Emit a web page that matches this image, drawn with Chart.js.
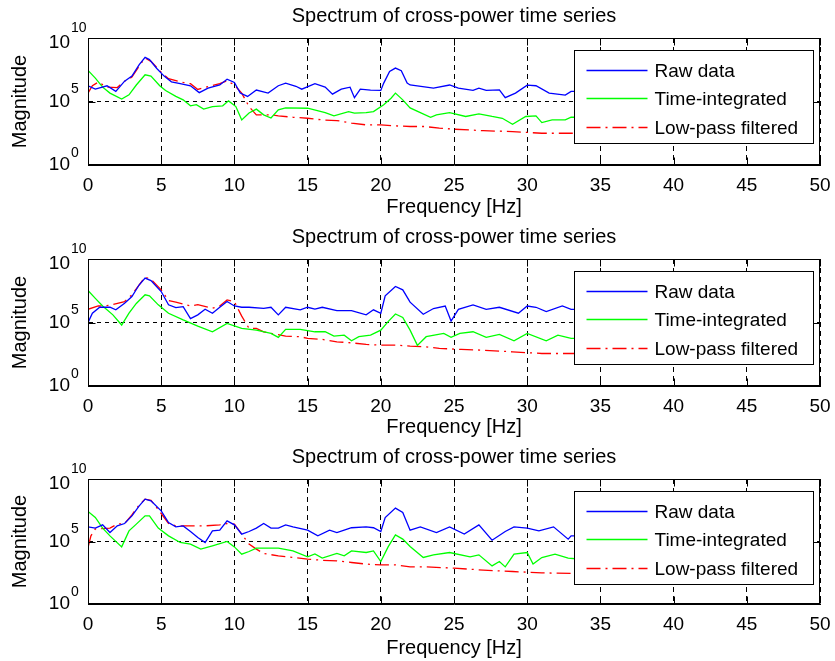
<!DOCTYPE html>
<html>
<head>
<meta charset="utf-8">
<script src="https://cdn.jsdelivr.net/npm/chart.js@4.4.1/dist/chart.umd.min.js"></script>
<style>
  html, body { margin: 0; padding: 0; background: #fff; }
  canvas { display: block; }
</style>
</head>
<body>
<canvas id="spec1" width="835" height="220"></canvas>
<canvas id="spec2" width="835" height="220"></canvas>
<canvas id="spec3" width="835" height="221"></canvas>
<script>
// ---- data: [frequency Hz, log10 magnitude] ----
const raw1 = [[0,6.24],[0.5,5.97],[1.3,6.24],[1.9,5.8],[2.5,6.6],[3,7.0],[3.5,7.9],[3.9,8.47],[4.2,8.3],[4.7,7.6],[5.2,7.0],[5.7,6.55],[6.3,6.4],[7,6.24],[7.6,5.7],[8.2,6.05],[9,6.3],[9.5,6.76],[10,6.5],[10.4,5.66],[10.9,5.4],[11.5,5.9],[12.3,5.66],[13,6.24],[13.5,6.45],[14.2,6.2],[14.6,5.97],[15.5,6.4],[16.2,6.13],[16.7,5.58],[17.3,5.97],[17.9,6.13],[18.2,5.3],[18.6,5.97],[19.3,5.9],[20,5.87],[20.2,6.45],[20.6,7.37],[21,7.63],[21.4,7.42],[21.8,6.45],[22,6.3],[23.6,6.05],[24.7,6.3],[25.3,6.05],[26.3,5.87],[26.7,6.05],[27.2,5.87],[28.1,5.92],[28.5,5.3],[29.2,5.66],[30,6.29],[30.6,6.24],[31.5,5.66],[32.6,5.5],[33,5.8],[33.5,5.8]];
const integ1 = [[0,7.45],[0.5,6.84],[1,6.13],[1.5,5.66],[2.3,5.2],[2.8,5.53],[3.3,6.3],[3.9,7.1],[4.3,7.0],[4.9,6.24],[5.3,5.87],[6,5.4],[6.5,5.13],[7,4.66],[7.4,4.75],[7.9,4.4],[8.5,4.6],[9.2,4.66],[9.6,5.05],[10.1,4.6],[10.5,3.55],[11,4.1],[11.5,4.4],[12,3.95],[12.5,3.7],[13,4.34],[13.5,4.5],[15,4.47],[16.2,4.13],[16.8,3.87],[17.8,4.2],[18.2,4.08],[19,4.13],[19.5,4.2],[20.2,4.74],[20.7,5.26],[21,5.66],[21.5,5.13],[22,4.5],[22.7,4.13],[23.4,3.76],[23.8,3.95],[24.7,4.13],[25.8,3.82],[26.7,4.03],[27.6,3.82],[28.3,3.68],[29,3.2],[29.9,3.82],[30.6,3.87],[31,3.34],[31.7,3.55],[32.6,3.55],[33,3.76],[33.5,3.76]];
const lowpass1 = [[0,5.66],[0.3,6.24],[0.7,6.53],[1.3,6.13],[2,6.1],[2.5,6.6],[3,6.92],[3.5,7.8],[3.9,8.42],[4.3,8.16],[5,7.3],[5.5,6.8],[6.5,6.5],[7,6.4],[7.5,5.95],[8.3,6.2],[9,6.4],[9.5,6.63],[10,6.3],[10.5,5.66],[11,4.6],[11.5,3.95],[12.5,3.95],[13,3.87],[14,3.76],[15,3.68],[16,3.55],[17,3.5],[18,3.3],[19,3.16],[20,3.16],[21,3.08],[22,3.03],[23,3.03],[24,2.9],[25,2.82],[27,2.7],[29,2.63],[31,2.5],[33.5,2.5]];

const raw2 = [[0,4.99],[0.3,5.73],[0.8,6.2],[1.5,6.2],[1.9,6.0],[2.5,6.52],[3,7.04],[3.5,7.97],[3.9,8.5],[4.3,8.3],[5,7.44],[5.5,6.39],[6,6.17],[6.5,6.25],[7,5.3],[7.5,5.6],[8,6.04],[8.5,5.73],[9,6.2],[9.5,6.65],[10,6.3],[10.5,6.2],[11,6.2],[12,6.12],[12.5,6.2],[13,5.6],[13.5,6.2],[14.5,6.0],[15,6.2],[15.5,6.05],[16,6.2],[17,5.94],[18,5.94],[19,5.6],[19.5,6.0],[20,5.73],[20.3,7.1],[21,7.84],[21.5,7.57],[22,6.6],[22.9,5.65],[23.6,6.1],[24.4,6.3],[24.8,5.12],[25.3,6.04],[26.3,6.39],[27.2,6.04],[28.1,6.2],[29.4,5.73],[30,6.3],[30.6,6.2],[31.3,5.86],[32.4,6.3],[33,6.04],[33.5,6.04]];
const integ2 = [[0,7.52],[0.5,6.9],[1,6.3],[1.7,5.6],[2.3,4.8],[2.8,5.73],[3.3,6.5],[3.9,7.18],[4.2,7.1],[4.8,6.39],[5.5,5.73],[6.5,5.2],[7.5,4.72],[8.5,4.27],[9.5,4.93],[10.5,4.54],[11.5,4.4],[12.5,4.14],[13,3.83],[13.5,4.46],[14.5,4.46],[15.5,4.27],[16.2,4.27],[16.8,3.93],[17.5,4.0],[18,3.56],[18.5,3.88],[19.3,4.0],[20,4.4],[20.5,5.07],[21,5.67],[21.5,5.4],[22,4.4],[22.5,3.2],[23.1,3.88],[24.3,4.14],[24.8,3.83],[25.4,4.14],[26.3,4.27],[27.2,3.83],[28.1,4.06],[29.1,3.56],[30,4.14],[31.3,3.56],[32.1,4.0],[33,3.75],[33.5,3.75]];
const lowpass2 = [[0,6.04],[0.7,6.3],[1.5,6.35],[2.5,6.65],[3,7.18],[3.5,7.97],[3.9,8.58],[4.3,8.4],[5,7.57],[5.5,6.73],[6,6.6],[7,6.3],[7.5,6.4],[8.5,6.12],[9,6.3],[9.5,6.78],[10,6.65],[10.5,5.5],[11,4.54],[11.5,4.54],[12,4.27],[12.5,4.14],[13.5,3.93],[14.5,3.88],[15,3.75],[16,3.67],[17,3.48],[18,3.4],[19,3.27],[20,3.22],[21,3.22],[22,3.14],[23,3.09],[24,2.96],[25.5,2.88],[27,2.82],[29,2.69],[31,2.56],[33.5,2.56]];

const raw3 = [[0,6.17],[0.5,6.07],[1,6.33],[1.5,5.72],[2,6.25],[2.5,6.44],[3,7.05],[3.5,7.85],[3.9,8.39],[4.3,8.25],[5,7.45],[5.5,6.52],[6,6.17],[6.5,6.25],[7,5.8],[7.5,5.32],[8,4.92],[8.5,5.85],[9,5.9],[9.5,6.65],[10,6.33],[10.5,5.59],[11,5.8],[11.5,6.07],[12,6.44],[12.5,6.07],[13,6.07],[13.5,6.33],[14,6.17],[15,5.91],[15.7,5.45],[16.5,5.91],[17,5.72],[17.5,5.91],[18,6.1],[19,6.17],[19.5,6.1],[20,5.8],[20.3,6.92],[21,7.67],[21.5,7.32],[22,5.91],[22.7,6.17],[23.8,5.72],[24.7,6.17],[25.7,5.59],[26.7,6.33],[27.6,5.1],[28.5,5.8],[29.1,6.17],[30,6.07],[30.8,5.85],[31.8,6.17],[32.8,5.19],[33,5.45],[33.5,5.45]];
const integ3 = [[0,7.4],[0.5,6.92],[1,6.07],[1.5,5.45],[2.3,4.57],[2.8,5.85],[3.3,6.39],[3.9,7.05],[4.2,7.05],[4.8,6.07],[5.5,5.45],[6.3,4.92],[7,4.79],[7.7,4.39],[8.5,4.65],[9.5,5.0],[10,4.57],[10.5,3.99],[11,4.2],[11.5,4.47],[13,4.47],[14,4.25],[15,3.77],[15.5,4.0],[16,3.67],[17,4.04],[17.5,3.85],[18,4.25],[19,4.12],[19.5,4.25],[20,3.4],[20.5,4.57],[21,5.53],[21.5,5.19],[22,4.6],[22.9,3.72],[23.6,3.93],[24.7,4.12],[26.1,3.77],[26.7,3.93],[27.6,3.05],[28.1,3.4],[28.5,2.97],[29.1,3.99],[30,4.12],[30.4,3.19],[31,3.72],[31.9,3.99],[32.8,3.67],[33.5,3.6]];
const lowpass3 = [[0,4.52],[0.2,5.45],[0.5,6.0],[1.5,6.07],[2,6.39],[2.5,6.44],[3,7.13],[3.5,7.93],[3.9,8.39],[4.3,8.3],[5,7.24],[5.5,6.44],[6,6.25],[7,6.25],[8,6.25],[9,6.33],[9.5,6.44],[10,6.39],[10.5,5.59],[11,4.79],[11.5,4.39],[12,4.04],[13,3.85],[14,3.72],[15,3.59],[16,3.5],[17,3.45],[18,3.32],[19,3.19],[20,3.13],[21,3.13],[22,2.97],[23,2.97],[25,2.87],[27,2.71],[29,2.6],[31,2.49],[33.5,2.44]];

const seriesLabels = ['Raw data', 'Time-integrated', 'Low-pass filtered'];
const seriesColors = ['#0000ff', '#00ff00', '#ff0000'];
const yTickValues = [1, 1e5, 1e10];
const yTickExponents = ['0', '5', '10'];
const chartTitle = 'Spectrum of cross-power time series';

const FONT = "'Liberation Sans', Arial, sans-serif";
const DASHDOT = [14, 5, 2, 5];

// MATLAB-style box, inward ticks, title, superscript y labels and inside legend
const matlabAxes = {
    id: 'matlabAxes',
    afterDatasetsDraw(chart) {
        const ctx = chart.ctx;
        const a = chart.chartArea;
        const xs = chart.scales.x, ys = chart.scales.y;
        const L = Math.round(a.left) + 0.5, R = Math.round(a.right) - 0.5;
        const T = Math.round(a.top) + 0.5, B = Math.round(a.bottom) - 0.5;
        ctx.save();
        ctx.strokeStyle = '#000';
        ctx.lineWidth = 1;
        ctx.setLineDash([]);
        ctx.beginPath();
        xs.ticks.forEach(function (t) {
            const px = Math.round(xs.getPixelForValue(t.value)) + 0.5;
            ctx.moveTo(px, B); ctx.lineTo(px, B - 7);
            ctx.moveTo(px, T); ctx.lineTo(px, T + 7);
        });
        ys.ticks.forEach(function (t) {
            const py = Math.round(ys.getPixelForValue(t.value)) + 0.5;
            ctx.moveTo(L, py); ctx.lineTo(L + 7, py);
            ctx.moveTo(R, py); ctx.lineTo(R - 7, py);
        });
        ctx.stroke();
        ctx.strokeRect(L, T, R - L, B - T);

        // legend box
        const w = 239, h = 93;
        const bx = Math.round(a.right) - 7 - w + 0.5;
        const by = Math.round(a.top) + 12 + 0.5;
        ctx.fillStyle = '#fff';
        ctx.fillRect(bx, by, w, h);
        ctx.strokeRect(bx, by, w, h);
        const rows = [19, 47.5, 76];
        ctx.font = '19px ' + FONT;
        ctx.textBaseline = 'middle';
        ctx.textAlign = 'left';
        seriesLabels.forEach(function (lab, i) {
            const y = Math.round(by + rows[i]) + 0.5;
            ctx.strokeStyle = seriesColors[i];
            ctx.lineWidth = 1.3;
            ctx.setLineDash(i === 2 ? DASHDOT : []);
            ctx.beginPath();
            ctx.moveTo(bx + 12, y);
            ctx.lineTo(bx + 73, y);
            ctx.stroke();
            ctx.fillStyle = '#000';
            ctx.fillText(lab, bx + 80, y + 1);
        });
        ctx.restore();
    },
    afterDraw(chart) {
        const ctx = chart.ctx;
        const a = chart.chartArea;
        const ys = chart.scales.y;
        const xRight = a.left - 18;
        ctx.save();
        ctx.fillStyle = '#000';
        ctx.textBaseline = 'middle';

        // title centred over the axes box
        ctx.font = '20px ' + FONT;
        ctx.textAlign = 'center';
        ctx.fillText(chartTitle, (a.left + a.right) / 2, a.top - 22);

        yTickValues.forEach(function (v, i) {
            const top = i === yTickValues.length - 1;
            let py = ys.getPixelForValue(v);
            if (top) py += 5;
            ctx.font = '19px ' + FONT;
            ctx.textAlign = 'right';
            ctx.fillText('10', xRight, py);
            ctx.font = '14px ' + FONT;
            ctx.textAlign = 'left';
            ctx.fillText(yTickExponents[i], xRight + 1, py - (top ? 15 : 12));
        });
        ctx.restore();
    }
};

function toPoints(pairs) {
    return pairs.map(function (p) { return { x: p[0], y: Math.pow(10, p[1]) }; });
}

function makeSpectrum(canvasId, raw, integ, lowpass, topPad, xAxisHeight) {
    const sets = [raw, integ, lowpass];
    return new Chart(document.getElementById(canvasId), {
        type: 'line',
        data: {
            datasets: sets.map(function (s, i) {
                return {
                    label: seriesLabels[i],
                    data: toPoints(s),
                    borderColor: seriesColors[i],
                    borderWidth: 1.3,
                    borderDash: i === 2 ? DASHDOT : [],
                    pointRadius: 0,
                    tension: 0,
                    fill: false
                };
            })
        },
        options: {
            responsive: false,
            animation: false,
            devicePixelRatio: 1,
            layout: { padding: { left: 0, right: 15, top: topPad, bottom: 0 } },
            plugins: {
                legend: { display: false },
                tooltip: { enabled: false },
                title: { display: false }
            },
            scales: {
                x: {
                    type: 'linear',
                    min: 0,
                    max: 50,
                    ticks: { stepSize: 5, color: '#000', padding: 9, font: { family: FONT, size: 19 } },
                    grid: { color: '#000', drawTicks: false, lineWidth: 1 },
                    border: { display: true, color: '#000', dash: [5, 4] },
                    title: {
                        display: true, text: 'Frequency [Hz]', color: '#000',
                        font: { family: FONT, size: 20 }, padding: { top: 0, bottom: 1 }
                    },
                    afterFit: function (scale) {
                        scale.height = xAxisHeight;
                        scale.paddingLeft = 0;
                        scale.paddingRight = 0;
                    }
                },
                y: {
                    type: 'logarithmic',
                    min: 1,
                    max: 1e10,
                    afterBuildTicks: function (scale) {
                        scale.ticks = yTickValues.map(function (v) { return { value: v }; });
                    },
                    ticks: { display: false },
                    grid: { color: '#000', drawTicks: false, lineWidth: 1 },
                    border: { display: true, color: '#000', dash: [4, 4] },
                    title: {
                        display: true, text: 'Magnitude', color: '#000',
                        font: { family: FONT, size: 20 }, padding: { top: 8, bottom: 0 }
                    },
                    afterFit: function (scale) {
                        scale.width = 88;
                        scale.paddingTop = 0;
                        scale.paddingBottom = 0;
                    }
                }
            }
        },
        plugins: [matlabAxes]
    });
}

makeSpectrum('spec1', raw1, integ1, lowpass1, 38, 55);
makeSpectrum('spec2', raw2, integ2, lowpass2, 39, 54);
makeSpectrum('spec3', raw3, integ3, lowpass3, 39, 57);
</script>
</body>
</html>
